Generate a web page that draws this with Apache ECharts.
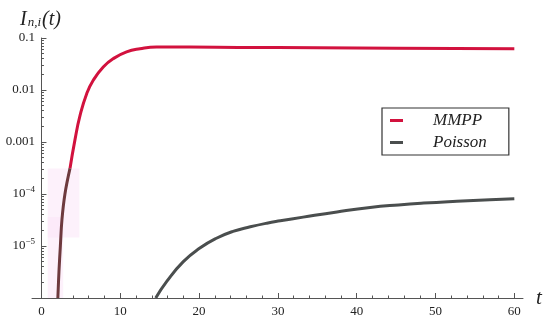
<!DOCTYPE html>
<html>
<head>
<meta charset="utf-8">
<title>I_n,i(t)</title>
<script src="https://cdn.jsdelivr.net/npm/echarts@6/dist/echarts.min.js"></script>
<style>
  html, body { margin: 0; height: 100%; background: #fff; }
  #main { width: 550px; height: 326px; }
</style>
</head>
<body>
<div id="main"></div>
<script>
// values
// MMPP, lower (dark) stretch and upper (red) stretch share the point at t=3.62
var mmppLowT = [2.08, 2.22, 2.4, 2.6, 2.98, 3.62];
var mmppLowV = [1e-6, 3.2e-6, 1.0e-5, 3.2e-5, 1.0e-4, 3.1e-4];
var mmppT = [3.62, 4.25, 4.89, 5.74, 6.57, 7.84, 9.1, 10.8, 12.5, 14.6, 18.8, 25, 35, 45, 60];
var mmppV = [3.1e-4, 1.1e-3, 3.2e-3, 8.5e-3, 0.0154, 0.0277, 0.040, 0.054, 0.062, 0.067, 0.067, 0.066, 0.065, 0.0635, 0.062];
var poisT = [14.5, 15.9, 18.0, 20.1, 22.2, 24.3, 26.5, 28.6, 30.3, 33.2, 37.5, 41.7, 45.3, 48.5, 52.7, 56.9, 60];
var poisV = [1e-6, 2.09e-6, 5.01e-6, 9.12e-6, 1.41e-5, 1.91e-5, 2.34e-5, 2.75e-5, 3.05e-5, 3.59e-5, 4.52e-5, 5.5e-5, 6.17e-5, 6.68e-5, 7.24e-5, 7.76e-5, 8.13e-5];

var xMajor = [0, 10, 20, 30, 40, 50, 60];
var xMinor = [2, 4, 6, 8, 12, 14, 16, 18, 22, 24, 26, 28, 32, 34, 36, 38, 42, 44, 46, 48, 52, 54, 56, 58];
var yMajor = [1e-6, 1e-5, 1e-4, 1e-3, 0.01, 0.1];
var yLabels = [1e-5, 1e-4, 1e-3, 0.01, 0.1];
var yMinor = [];
for (var k = -6; k <= -2; k++) {
  for (var m = 2; m <= 9; m++) yMinor.push(m * Math.pow(10, k));
}

function zip(a, b) {
  var out = [];
  for (var i = 0; i < a.length; i++) out.push([a[i], b[i]]);
  return out;
}

var red = '#d2123e';
var brown = '#6e3a3e';
var grey = '#4a4e4e';
var serif = '"Liberation Serif", "DejaVu Serif", serif';
var axisColor = '#555';

var chart = echarts.init(document.getElementById('main'));
var option = {
  animation: false,
  title: {
    text: '{i|I}{s|n,i}{i|(t)}',
    left: 15,
    top: 5,
    textStyle: {
      rich: {
        i: { fontFamily: serif, fontStyle: 'italic', fontWeight: 'normal', fontSize: 20, color: '#222' },
        s: { fontFamily: serif, fontStyle: 'italic', fontWeight: 'normal', fontSize: 13, color: '#222', padding: [0, 1, -5, 1] }
      }
    }
  },
  legend: {
    orient: 'vertical',
    left: 382,
    top: 108,
    padding: [4, 22, 4, 8],
    itemGap: 5,
    itemWidth: 13,
    itemHeight: 3,
    icon: 'rect',
    borderColor: '#333',
    borderWidth: 1.2,
    textStyle: { fontFamily: serif, fontStyle: 'italic', fontSize: 17, color: '#222', padding: [0, 0, 0, 25] },
    data: [
      { name: 'MMPP', itemStyle: { color: red } },
      { name: 'Poisson', itemStyle: { color: grey } }
    ]
  },
  grid: { left: 32, right: 27, top: 38, bottom: 28, outerBoundsMode: 'none', containLabel: false },
  xAxis: [{
    type: 'value',
    min: -1.2,
    max: 61.1,
    name: 't',
    nameLocation: 'end',
    nameGap: 13,
    nameTextStyle: { fontFamily: serif, fontStyle: 'italic', fontSize: 21, color: '#222', padding: [12, 0, 0, 0] },
    axisLine: { onZero: false, lineStyle: { color: axisColor, width: 1 } },
    axisTick: { inside: true, length: 5, customValues: xMajor, lineStyle: { color: axisColor } },
    axisLabel: { customValues: xMajor, margin: 7, fontFamily: serif, fontSize: 13, color: '#222' },
    splitLine: { show: false }
  }, {
    type: 'value',
    min: -1.2,
    max: 61.1,
    position: 'bottom',
    axisLine: { show: false, onZero: false },
    axisTick: { inside: true, length: 2.5, customValues: xMinor, lineStyle: { color: axisColor } },
    axisLabel: { show: false },
    splitLine: { show: false }
  }],
  yAxis: [{
    type: 'log',
    min: 1e-6,
    max: 0.1,
    position: 'left',
    axisLine: { onZero: true, onZeroAxisIndex: 0, lineStyle: { color: axisColor, width: 1 } },
    axisTick: { inside: true, length: 5, customValues: yMajor, lineStyle: { color: axisColor } },
    axisLabel: {
      customValues: yLabels,
      margin: -3,
      fontFamily: serif,
      fontSize: 13,
      color: '#222',
      formatter: function (v) {
        var e = Math.round(Math.log10(v));
        if (e >= -3) return ['0.001', '0.01', '0.1'][e + 3];
        return '10{sup|\u2212' + (-e) + '}';
      },
      rich: {
        sup: { fontFamily: serif, fontSize: 9, color: '#222', padding: [0, 0, 8, 0] }
      }
    },
    splitLine: { show: false }
  }, {
    type: 'log',
    min: 1e-6,
    max: 0.1,
    position: 'left',
    axisLine: { onZero: true, onZeroAxisIndex: 0, lineStyle: { color: axisColor, opacity: 0 } },
    axisTick: { inside: true, length: 2.5, customValues: yMinor, lineStyle: { color: axisColor } },
    axisLabel: { show: false },
    splitLine: { show: false }
  }],
  series: [{
    name: 'MMPP',
    type: 'line',
    xAxisIndex: 0,
    yAxisIndex: 0,
    data: zip(mmppT, mmppV),
    showSymbol: false,
    smooth: 0.5,
    lineStyle: { color: red, width: 3 },
    itemStyle: { color: red }
  }, {
    name: 'MMPP low',
    type: 'line',
    xAxisIndex: 0,
    yAxisIndex: 0,
    data: zip(mmppLowT, mmppLowV),
    showSymbol: false,
    smooth: 0.4,
    lineStyle: { color: brown, width: 3 },
    itemStyle: { color: brown },
    markArea: {
      silent: true,
      itemStyle: { color: 'rgba(252, 228, 248, 0.5)' },
      data: [
        [{ coord: [0.8, 3.1e-4] }, { coord: [4.8, 1.45e-5] }],
        [{ coord: [0.8, 3.6e-5] }, { coord: [2.75, 1e-6] }]
      ]
    }
  }, {
    name: 'Poisson',
    type: 'line',
    xAxisIndex: 0,
    yAxisIndex: 0,
    data: zip(poisT, poisV),
    showSymbol: false,
    smooth: 0.5,
    lineStyle: { color: grey, width: 3 },
    itemStyle: { color: grey }
  }]
};
chart.setOption(option);
</script>
</body>
</html>
